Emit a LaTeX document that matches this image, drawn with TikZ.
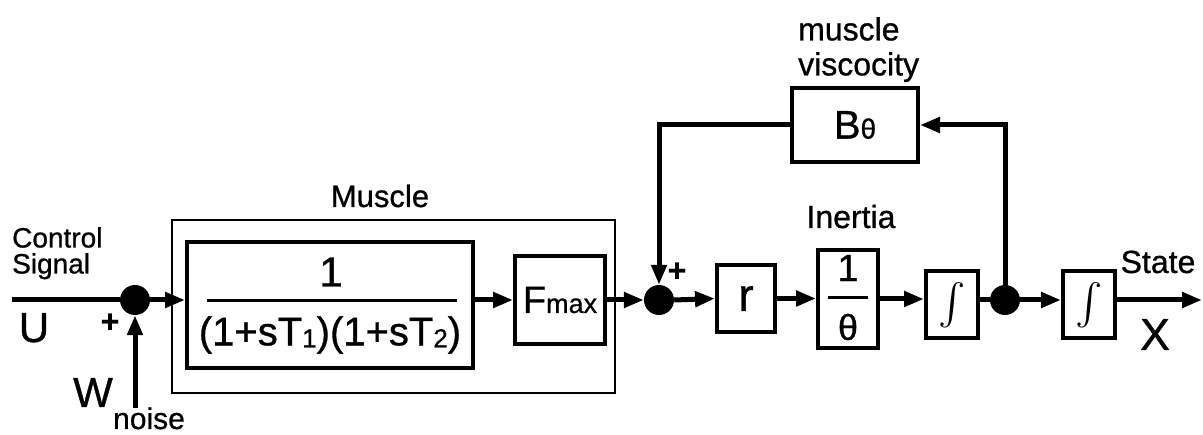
\documentclass[tikz,border=0pt]{standalone}
\usepackage{fontspec}
\usepackage{graphicx}
\setmainfont{Liberation Sans}[FakeBold=0.8]
\usetikzlibrary{arrows.meta}
\newcommand{\fsz}[1]{\fontsize{#1}{#1}\selectfont}
\newcommand{\sbs}[1]{{\fsz{26}\raisebox{-2pt}{#1}}}
\begin{document}
\begin{tikzpicture}[x=1pt,y=-1pt,
  blk/.style={draw, line width=4pt, inner sep=0pt},
  conn/.style={line width=5pt},
  arr/.style={line width=5pt, -{Triangle[length=20pt,width=15pt]}},
  junc/.style={circle, fill, minimum size=30pt, inner sep=0pt},
  lbl/.style={inner sep=0pt},
  bar/.style={line width=3pt}
]
\useasboundingbox (0,0) rectangle (1203,435);

% Muscle group
\node[draw, line width=2pt, minimum width=443pt, minimum height=173pt, inner sep=0pt] (outer) at (393.5,306.5) {};
\node[lbl, font=\fsz{31}, anchor=base] (muscle) at (380,207) {Muscle};
\node[blk, minimum width=286pt, minimum height=126pt] (inner) at (330,305) {};
\node[lbl, font=\fsz{42}] (num1) at (331,272) {1};
\coordinate (b1l) at (207,301);
\coordinate (b1r) at (457,301);
\draw[bar] (b1l) -- (b1r);
\node[lbl, font=\fsz{40}] (den1) at (330,335) {(1+sT\sbs{1})(1+sT\sbs{2})};
\node[blk, minimum width=90pt, minimum height=88pt, font=\fsz{38}] (fmax) at (560,300) {F{\fsz{27}max}};

% junctions
\node[junc] (sum1) at (135,300) {};
\node[junc] (sum2) at (659,300) {};
\node[junc] (dot) at (1005,300) {};

% right blocks
\node[blk, minimum width=58pt, minimum height=67pt, font=\fsz{46}] (r) at (746,298.5) {r};
\node[blk, minimum width=60pt, minimum height=98pt] (th) at (848,299) {};
\node[lbl, font=\fsz{38}] (num2) at (848,268) {1};
\coordinate (b2l) at (828,298);
\coordinate (b2r) at (868,298);
\draw[bar] (b2l) -- (b2r);
\node[lbl, font=\fsz{36}] (den2) at (848,327) {θ};
\node[lbl, font=\fsz{32}, anchor=base] (inertia) at (851,228) {Inertia};
\node[blk, minimum width=52pt, minimum height=67pt] (i1) at (952,305) {\scalebox{4.1}{$\int$}};
\node[blk, minimum width=52pt, minimum height=67pt] (i2) at (1089,305) {\scalebox{4.1}{$\int$}};
\node[blk, minimum width=126pt, minimum height=74pt, font=\fsz{40}] (B) at (855,125) {B{\fsz{28}θ}};
\node[lbl, font=\fontsize{32}{35}\selectfont, align=left, anchor=north west] (mv) at (798,17) {muscle\\viscocity};

% labels
\node[lbl, font=\fontsize{28}{26}\selectfont, align=left, anchor=north west] (cs) at (12,227) {Control\\Signal};
\node[lbl, font=\fsz{42}, anchor=base] (U) at (34,342) {U};
\node[lbl, font=\bfseries\fsz{32}] (p1) at (110,323) {+};
\node[lbl, font=\fsz{42}, anchor=base] (W) at (93,407) {W};
\node[lbl, font=\fsz{30}, anchor=base] (noise) at (149,429) {noise};
\node[lbl, font=\bfseries\fsz{32}] (p2) at (677,272) {+};
\node[lbl, font=\fsz{32}, anchor=base] (state) at (1158,273) {State};
\node[lbl, font=\fsz{45}, anchor=base] (X) at (1155,350) {X};

% connectors
\coordinate (uin) at (12,300);
\coordinate (wb) at (135,408);
\coordinate (xo) at (1202,300);
\draw[conn] (uin) -- (sum1.west);
\draw[arr] (sum1.east) -- (inner.west |- sum1);
\draw[arr] (wb) -- (sum1.south);
\draw[arr] (inner.east |- fmax) -- (fmax.west);
\draw[arr] (fmax.east) -- (sum2.west);
\draw[arr] (sum2.east) -- (r.west);
\draw[arr] (r.east) -- (r.east -| th.west);
\draw[arr] (th.east) -- (th.east -| i1.west);
\draw[conn] (i1.east |- dot) -- (dot.west);
\draw[arr] (dot.east) -- (i2.west |- dot);
\draw[arr] (i2.east |- dot) -- (xo);
\draw[arr] (dot.north) |- (B.east);
\draw[arr] (B.west) -| (sum2.north);
\end{tikzpicture}
\end{document}
